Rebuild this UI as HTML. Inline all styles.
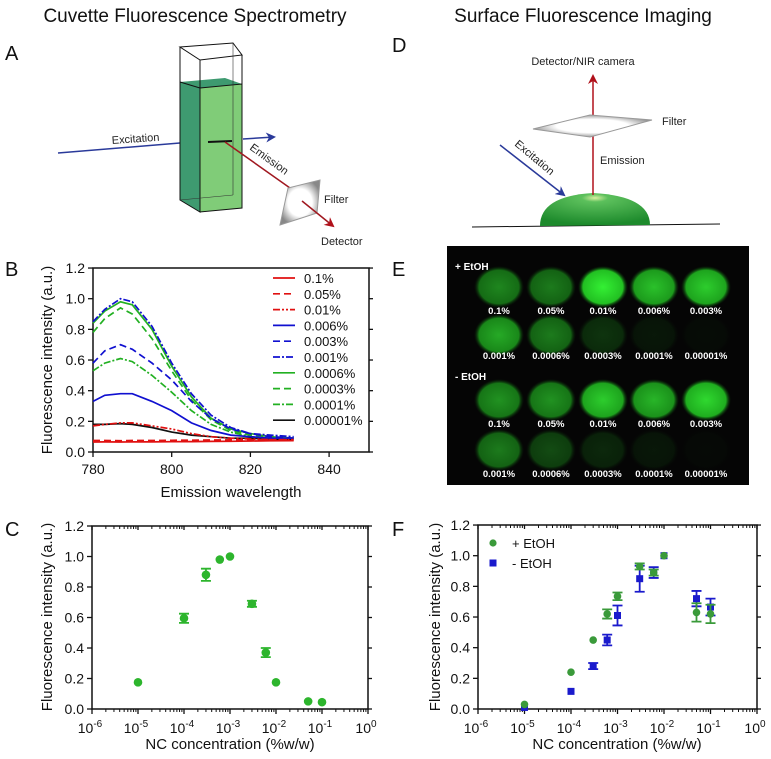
<!DOCTYPE html>
<html><head><meta charset="utf-8"><style>
html,body{margin:0;padding:0;background:#fff;}
svg{display:block;font-family:"Liberation Sans",Arial,sans-serif;}
</style></head><body>
<svg id="fig" width="771" height="759" viewBox="0 0 771 759" xmlns="http://www.w3.org/2000/svg">
<defs>
<radialGradient id="filtA" cx="50%" cy="50%" r="55%"><stop offset="0" stop-color="#fff"/><stop offset="0.55" stop-color="#fff"/><stop offset="1" stop-color="#888"/></radialGradient>
<radialGradient id="drop" cx="50%" cy="15%" r="80%"><stop offset="0" stop-color="#d8f0a0"/><stop offset="0.15" stop-color="#5cc05c"/><stop offset="1" stop-color="#1d8a2c"/></radialGradient>
<radialGradient id="spot" cx="50%" cy="50%" r="50%"><stop offset="0" stop-color="#34f034"/><stop offset="0.8" stop-color="#22c022"/><stop offset="1" stop-color="#0a400a" stop-opacity="0"/></radialGradient>
<marker id="arB" markerWidth="10" markerHeight="10" refX="8" refY="5" orient="auto" markerUnits="userSpaceOnUse"><path d="M0,0 L10,5 L0,10 L3,5z" fill="#2a3a9a"/></marker>
<marker id="arR" markerWidth="10" markerHeight="10" refX="8" refY="5" orient="auto" markerUnits="userSpaceOnUse"><path d="M0,0 L10,5 L0,10 L3,5z" fill="#b0101a"/></marker>
</defs>

<!-- Titles -->
<text x="195" y="22" font-size="19" text-anchor="middle" fill="#111">Cuvette Fluorescence Spectrometry</text>
<text x="583" y="22" font-size="19" text-anchor="middle" fill="#111">Surface Fluorescence Imaging</text>
<text x="5" y="60" font-size="20" fill="#111">A</text>
<text x="392" y="52" font-size="20" fill="#111">D</text>
<text x="5" y="276" font-size="20" fill="#111">B</text>
<text x="392" y="276" font-size="20" fill="#111">E</text>
<text x="5" y="536" font-size="20" fill="#111">C</text>
<text x="392" y="536" font-size="20" fill="#111">F</text>

<!-- Panel A -->
<g>
<line x1="58" y1="153" x2="192" y2="142" stroke="#2a3a9a" stroke-width="1.5"/>
<text x="112" y="144" font-size="11" fill="#222" transform="rotate(-4 112 144)">Excitation</text>
<polygon points="180,82 225,78 242,84 200,88" fill="#3e9a70"/>
<polygon points="180,82 200,88 200,212 180,200" fill="#3e9a70" stroke="#111" stroke-width="1"/>
<polygon points="200,88 242,84 242,208 200,212" fill="#80cc78" stroke="#111" stroke-width="1"/>
<polygon points="180,47 233,43 242,55 200,60" fill="none" stroke="#111" stroke-width="1"/>
<line x1="180" y1="47" x2="180" y2="200" stroke="#111" stroke-width="1"/>
<line x1="200" y1="60" x2="200" y2="212" stroke="#111" stroke-width="1"/>
<line x1="242" y1="55" x2="242" y2="208" stroke="#111" stroke-width="1"/>
<line x1="233" y1="43" x2="233" y2="195" stroke="#333" stroke-width="0.6"/>
<line x1="180" y1="200" x2="233" y2="195" stroke="#333" stroke-width="0.6"/>
<line x1="208" y1="142" x2="232" y2="141" stroke="#111" stroke-width="2"/>
<line x1="243" y1="139" x2="274" y2="137" stroke="#2a3a9a" stroke-width="1.5" marker-end="url(#arB)"/>
<line x1="225" y1="142" x2="290" y2="188" stroke="#a01820" stroke-width="1.5"/>
<text x="249" y="149" font-size="11" fill="#222" transform="rotate(36 249 149)">Emission</text>
<polygon points="280,225 288,188 320,180 317,213" fill="url(#filtA)" stroke="#999" stroke-width="1"/>
<line x1="302" y1="201" x2="333" y2="226" stroke="#a01820" stroke-width="1.5" marker-end="url(#arR)"/>
<text x="324" y="203" font-size="11" fill="#222">Filter</text>
<text x="321" y="245" font-size="11" fill="#222">Detector</text>
</g>

<!-- Panel D -->
<g>
<line x1="472" y1="227" x2="720" y2="224" stroke="#111" stroke-width="1"/>
<path d="M540,226 Q540,196 593,193 Q650,196 650,225 Z" fill="url(#drop)"/>
<line x1="593" y1="195" x2="593" y2="76" stroke="#b0101a" stroke-width="1.5" marker-end="url(#arR)"/>
<polygon points="533,129 590,115 652,120 590,137" fill="url(#filtA)" stroke="#999" stroke-width="1"/>
<text x="662" y="125" font-size="11" fill="#222">Filter</text>
<text x="600" y="164" font-size="11" fill="#222">Emission</text>
<text x="583" y="65" font-size="11" fill="#222" text-anchor="middle">Detector/NIR camera</text>
<line x1="500" y1="145" x2="564" y2="195" stroke="#2a3a9a" stroke-width="1.5" marker-end="url(#arB)"/>
<text x="514" y="145" font-size="11" fill="#222" transform="rotate(40 514 145)">Excitation</text>
</g>

<!-- Panel E -->
<g id="panelE">
<rect x="447" y="246" width="302" height="239" fill="#050505"/>
<text x="455" y="270" font-size="10" font-weight="bold" fill="#fff">+ EtOH</text>
<text x="455" y="380" font-size="10" font-weight="bold" fill="#fff">- EtOH</text>
</g>

<g id="charts"></g>
</svg>
<script>
// ---------- Panel B data ----------
const wavelengths = [780,783,787,790,795,800,805,810,815,820,825,831];
const seriesLabels = ["0.1%","0.05%","0.01%","0.006%","0.003%","0.001%","0.0006%","0.0003%","0.0001%","0.00001%"];
const s01 = [0.065,0.066,0.065,0.066,0.066,0.067,0.068,0.069,0.07,0.072,0.073,0.074];
const s005 = [0.075,0.075,0.074,0.075,0.075,0.076,0.077,0.078,0.079,0.08,0.08,0.08];
const s001 = [0.17,0.18,0.19,0.19,0.17,0.15,0.12,0.10,0.09,0.085,0.08,0.08];
const s0006 = [0.33,0.37,0.38,0.38,0.33,0.27,0.19,0.14,0.11,0.10,0.09,0.09];
const s0003 = [0.58,0.66,0.70,0.67,0.58,0.47,0.33,0.22,0.15,0.12,0.10,0.09];
const s00010 = [0.85,0.93,1.0,0.98,0.82,0.58,0.38,0.24,0.16,0.12,0.11,0.10];
const s00006 = [0.84,0.92,0.98,0.96,0.80,0.56,0.36,0.22,0.15,0.12,0.10,0.09];
const s00003 = [0.78,0.87,0.94,0.90,0.74,0.53,0.34,0.21,0.14,0.11,0.10,0.09];
const s00001 = [0.53,0.58,0.61,0.59,0.50,0.39,0.27,0.18,0.13,0.10,0.09,0.09];
const s000001 = [0.18,0.18,0.185,0.18,0.16,0.13,0.11,0.10,0.09,0.09,0.085,0.08];
const seriesValues = [s01,s005,s001,s0006,s0003,s00010,s00006,s00003,s00001,s000001];
const xTicksB = [780,800,820,840];
const yTicks = [0,0.2,0.4,0.6,0.8,1.0,1.2];
// ---------- Panel C data ----------
const concC = [1e-5,1e-4,3e-4,6e-4,1e-3,3e-3,6e-3,1e-2,5e-2,1e-1];
const intC = [0.175,0.595,0.88,0.98,1.0,0.69,0.37,0.175,0.05,0.045];
const errC = [0,0.03,0.04,0,0,0.02,0.03,0,0,0];
// ---------- Panel F data ----------
const concF = [1e-5,1e-4,3e-4,6e-4,1e-3,3e-3,6e-3,1e-2,5e-2,1e-1];
const intPlus = [0.03,0.24,0.45,0.62,0.735,0.93,0.89,1.0,0.63,0.62];
const errPlus = [0,0,0,0.03,0.025,0.02,0.02,0,0.06,0.06];
const intMinus = [0.01,0.115,0.28,0.45,0.61,0.85,0.89,1.0,0.72,0.665];
const errMinus = [0,0,0.02,0.035,0.065,0.085,0.035,0,0.05,0.055];
const logTickExps = [-6,-5,-4,-3,-2,-1,0];
// ---------- Panel E data ----------
const spotLabels = [["0.1%","0.05%","0.01%","0.006%","0.003%"],["0.001%","0.0006%","0.0003%","0.0001%","0.00001%"],["0.1%","0.05%","0.01%","0.006%","0.003%"],["0.001%","0.0006%","0.0003%","0.0001%","0.00001%"]];
const spotBrightness = [[0.55,0.5,1,0.8,0.85],[0.7,0.5,0.2,0.08,0.03],[0.6,0.6,0.85,0.75,0.9],[0.5,0.3,0.15,0.08,0.02]];

const NS="http://www.w3.org/2000/svg";
const root=document.getElementById('charts');
function el(tag,attrs,parent){const e=document.createElementNS(NS,tag);for(const k in attrs)e.setAttribute(k,attrs[k]);(parent||root).appendChild(e);return e;}

// Panel E spots
const eg=document.getElementById('panelE');
const spotX=[499,551,603,654,706], spotY=[287,335,400,450], labY=[314,359,427,477];
spotBrightness.forEach((row,r)=>row.forEach((b,c)=>{
  const s=el('ellipse',{cx:spotX[c],cy:spotY[r],rx:25,ry:21,fill:'url(#spot)',opacity:b},eg);
  
  
  const t=el('text',{x:spotX[c],y:labY[r],'font-size':9.5,'font-weight':'bold',fill:'#fff','text-anchor':'middle'},eg);
  t.textContent=spotLabels[r][c];
  
  
}));

function frame(g,x0,x1,y0,y1,yFn,name){
  el('rect',{x:x0,y:y1,width:x1-x0,height:y0-y1,fill:'none',stroke:'#111','stroke-width':1.5},g);
  yTicks.forEach(v=>{const y=yFn(v);
    el('line',{x1:x0-5,y1:y,x2:x0,y2:y,stroke:'#111','stroke-width':1.3},g);
    el('line',{x1:x1,y1:y,x2:x1+4,y2:y,stroke:'#111','stroke-width':1.3},g);
    const t=el('text',{x:x0-8,y:y+5,'font-size':14,'text-anchor':'end',fill:'#111'},g);t.textContent=v.toFixed(1);
    
    
  });
}
function logAxis(g,xFn,x0,x1,y0,y1){
  logTickExps.forEach(e=>{const x=xFn(Math.pow(10,e));
    el('line',{x1:x,y1:y0,x2:x,y2:y0+5,stroke:'#111','stroke-width':1.3},g);
    el('line',{x1:x,y1:y1,x2:x,y2:y1+4,stroke:'#111','stroke-width':1.3},g);
    const t=el('text',{x:x-2,y:y0+24,'font-size':14,'text-anchor':'middle',fill:'#111'},g);
    
    
    t.appendChild(document.createTextNode('10'));
    const sp=el('tspan',{dy:-6,'font-size':10},t);sp.textContent=String(e);
    if(e<0)for(let m=2;m<10;m++){const xm=xFn(m*Math.pow(10,e));
      el('line',{x1:xm,y1:y0,x2:xm,y2:y0+3,stroke:'#111','stroke-width':1},g);
      el('line',{x1:xm,y1:y1,x2:xm,y2:y1+3,stroke:'#111','stroke-width':1},g);}
  });
}

// ---------- Panel B ----------
const xB=v=>93+(v-780)*3.935, yB=v=>452-v*153.3;
const gB=el('g',{});


frame(gB,93,369,452,268,yB);
xTicksB.forEach(v=>{const x=xB(v);el('line',{x1:x,y1:452,x2:x,y2:457,stroke:'#111','stroke-width':1.3},gB);
  const t=el('text',{x:x,y:474,'font-size':14,'text-anchor':'middle',fill:'#111'},gB);t.textContent=v;
  
  });
const colB=['#e01010','#e01010','#e01010','#1010d0','#1010d0','#1010d0','#22b022','#22b022','#22b022','#111'];
const dashB=['','7,4','7,2,2,2,2,2','','7,4','7,2,2,2','','7,4','7,2,2,2',''];
for(let i=seriesValues.length-1;i>=0;i--){
  const d=wavelengths.map((w,j)=>(j?'L':'M')+xB(w).toFixed(1)+','+yB(seriesValues[i][j]).toFixed(1)).join('');
  const p=el('path',{d:d,fill:'none',stroke:colB[i],'stroke-width':1.7,'stroke-dasharray':dashB[i]},gB);
  
  
}
seriesLabels.forEach((l,i)=>{const y=278+i*15.8;
  const ln=el('line',{x1:273,y1:y,x2:295,y2:y,stroke:colB[i],'stroke-width':1.7,'stroke-dasharray':dashB[i]},gB);
  
  
  const t=el('text',{x:304,y:y+5,'font-size':13,fill:'#111'},gB);t.textContent=l;
  
  });
let t=el('text',{x:231,y:497,'font-size':15,'text-anchor':'middle',fill:'#111'},gB);t.textContent='Emission wavelength';


t=el('text',{x:0,y:0,'font-size':15,'text-anchor':'middle',fill:'#111',transform:'translate(52,360) rotate(-90)'},gB);t.textContent='Fluorescence intensity (a.u.)';



// ---------- Panel C ----------
const xC=c=>92+(Math.log10(c)+6)*46, yC=v=>709-v*152.5;
const gC=el('g',{});


frame(gC,92,368,709,526,yC);logAxis(gC,xC,92,368,709,526);
concC.forEach((c,i)=>{const x=xC(c),y=yC(intC[i]);
  if(errC[i]>0){const a=yC(intC[i]+errC[i]),b=yC(intC[i]-errC[i]);
    el('path',{d:`M${x},${a}V${b}M${x-5},${a}H${x+5}M${x-5},${b}H${x+5}`,stroke:'#2db52d','stroke-width':1.8,fill:'none'},gC);}
  const p=el('circle',{cx:x,cy:y,r:4.3,fill:'#2db52d'},gC);
  
  
});
t=el('text',{x:230,y:749,'font-size':15,'text-anchor':'middle',fill:'#111'},gC);t.textContent='NC concentration (%w/w)';


t=el('text',{x:0,y:0,'font-size':15,'text-anchor':'middle',fill:'#111',transform:'translate(52,617) rotate(-90)'},gC);t.textContent='Fluorescence intensity (a.u.)';



// ---------- Panel F ----------
const xF=c=>478+(Math.log10(c)+6)*46.5, yF=v=>709-v*153.3;
const gF=el('g',{});


frame(gF,478,757,709,525,yF);logAxis(gF,xF,478,757,709,525);
const gCol='#3a9a3a', bCol='#1a1acc';
function errbar(x,v,e,col){if(e<=0)return;const a=yF(v+e),b=yF(v-e);
  el('path',{d:`M${x},${a}V${b}M${x-5},${a}H${x+5}M${x-5},${b}H${x+5}`,stroke:col,'stroke-width':1.8,fill:'none'},gF);}
concF.forEach((c,i)=>{const x=xF(c);
  errbar(x,intMinus[i],errMinus[i],bCol);
  const s=el('rect',{x:x-3.5,y:yF(intMinus[i])-3.5,width:7,height:7,fill:bCol},gF);
  
  
  errbar(x,intPlus[i],errPlus[i],gCol);
  const p=el('circle',{cx:x,cy:yF(intPlus[i]),r:3.8,fill:gCol},gF);
  
  
});
el('circle',{cx:493,cy:543,r:3.6,fill:gCol},gF);
t=el('text',{x:512,y:548,'font-size':13,fill:'#111'},gF);t.textContent='+ EtOH';


el('rect',{x:489.5,y:559.5,width:7,height:7,fill:bCol},gF);
t=el('text',{x:512,y:568,'font-size':13,fill:'#111'},gF);t.textContent='- EtOH';


t=el('text',{x:617,y:749,'font-size':15,'text-anchor':'middle',fill:'#111'},gF);t.textContent='NC concentration (%w/w)';


t=el('text',{x:0,y:0,'font-size':15,'text-anchor':'middle',fill:'#111',transform:'translate(440,617) rotate(-90)'},gF);t.textContent='Fluorescence intensity (a.u.)';


</script>
</body></html>
